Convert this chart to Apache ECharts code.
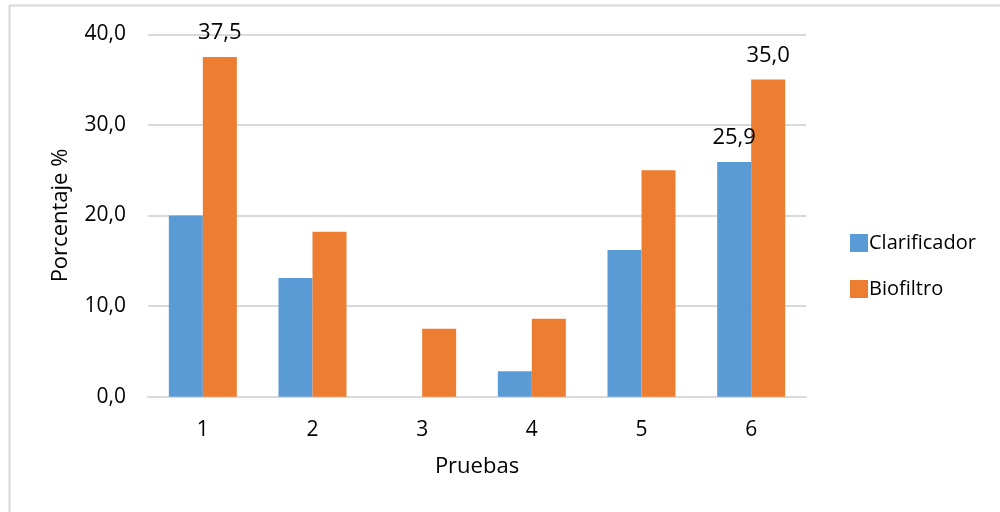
<!DOCTYPE html>
<html>
<head>
<meta charset="utf-8">
<title>Porcentaje por prueba</title>
<script src="https://cdn.jsdelivr.net/npm/echarts@6/dist/echarts.min.js"></script>
<style>
  html, body { margin: 0; padding: 0; background: #fff; }
  #chart { width: 1000px; height: 512px; }
</style>
</head>
<body>
<div id="chart"></div>
<script>
// Categories (test number) and the two series, in percent
const categories = ['1', '2', '3', '4', '5', '6'];
const clarificador = [20.0, 13.1, 0, 2.8, 16.2, 25.9];
const biofiltro = [37.5, 18.2, 7.5, 8.6, 25.0, 35.0];
// Points whose value is printed above the bar
const clarificadorLabeled = [5];
const biofiltroLabeled = [0, 5];
// Value axis ticks
const yTicks = [0, 10, 20, 30, 40];

const FONT = '"Open Sans", "Noto Sans", sans-serif';
const TEXT = '#000';

const fmt = v => v.toFixed(1).replace('.', ',');

function buildData(values, labeled) {
  return values.map((v, i) => labeled.includes(i)
    ? { value: v, label: { show: true } }
    : v);
}

const barLabel = {
  show: false,
  position: 'top',
  distance: 13,
  color: TEXT,
  fontFamily: FONT,
  fontSize: 22,
  formatter: p => fmt(p.value)
};

const chart = echarts.init(document.getElementById('chart'), null, { renderer: 'canvas' });

chart.setOption({
  animation: false,
  backgroundColor: '#fff',
  textStyle: { fontFamily: FONT, color: TEXT },
  graphic: [{
    type: 'rect',
    shape: { x: 9.5, y: 5.5, width: 1100, height: 700 },
    style: { fill: 'none', stroke: '#d9d9d9', lineWidth: 2 },
    silent: true,
    z: -10
  }],
  grid: { left: 148, right: 194, top: 34.3, bottom: 115.3 },
  legend: {
    orient: 'vertical',
    left: 845,
    top: 228,
    itemWidth: 18,
    itemHeight: 18,
    itemGap: 26,
    icon: 'rect',
    textStyle: { fontFamily: FONT, fontSize: 20, color: TEXT, padding: [0, 0, 0, -4] },
    data: ['Clarificador', 'Biofiltro']
  },
  xAxis: {
    type: 'category',
    data: categories,
    name: 'Pruebas',
    nameLocation: 'middle',
    nameGap: 59,
    nameTextStyle: { fontFamily: FONT, fontSize: 22, color: TEXT },
    axisLine: { show: true, lineStyle: { color: '#d9d9d9', width: 2 } },
    axisTick: { show: false },
    axisLabel: { fontFamily: FONT, fontSize: 21, color: TEXT, margin: 23 }
  },
  yAxis: {
    type: 'value',
    min: yTicks[0],
    max: yTicks[yTicks.length - 1],
    interval: yTicks[1] - yTicks[0],
    name: 'Porcentaje %',
    nameLocation: 'middle',
    nameGap: 76,
    nameTextStyle: { fontFamily: FONT, fontSize: 22, color: TEXT },
    axisLine: { show: false },
    axisTick: { show: false },
    splitLine: { lineStyle: { color: '#d9d9d9', width: 2 } },
    axisLabel: { fontFamily: FONT, fontSize: 21, color: TEXT, margin: 22, formatter: v => fmt(v) }
  },
  series: [
    {
      name: 'Clarificador',
      type: 'bar',
      barWidth: 34,
      barGap: '0%',
      itemStyle: { color: '#5B9BD5' },
      label: barLabel,
      data: buildData(clarificador, clarificadorLabeled)
    },
    {
      name: 'Biofiltro',
      type: 'bar',
      barWidth: 34,
      barGap: '0%',
      itemStyle: { color: '#ED7D31' },
      label: barLabel,
      data: buildData(biofiltro, biofiltroLabeled)
    }
  ]
});
</script>
</body>
</html>
